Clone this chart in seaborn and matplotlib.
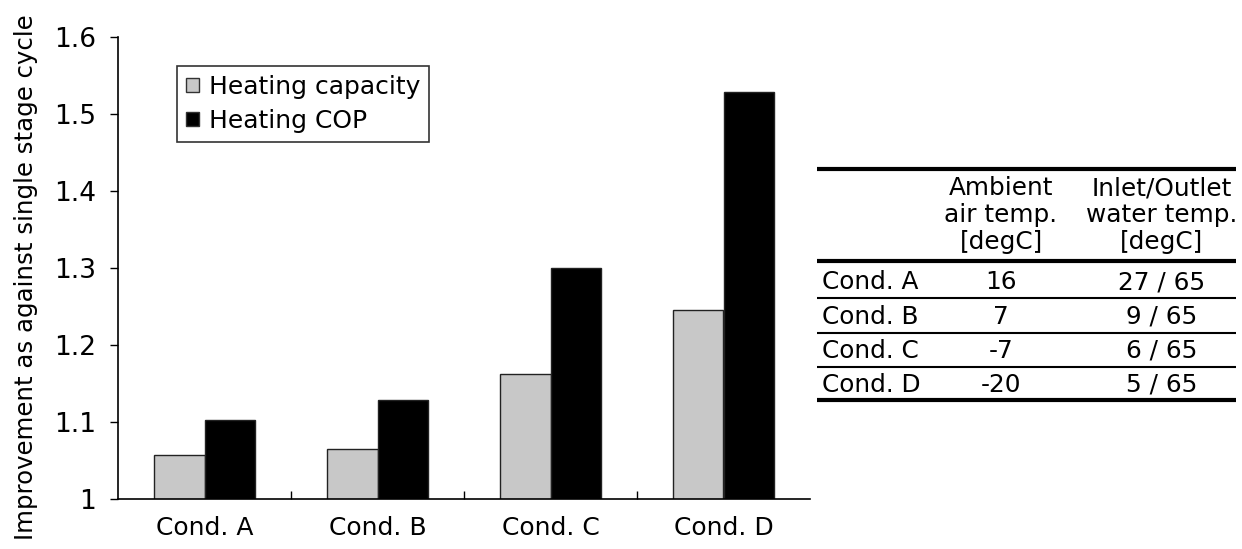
import matplotlib
matplotlib.use("Agg")
import matplotlib.pyplot as plt
from matplotlib.ticker import FuncFormatter, FixedLocator
from matplotlib.patches import Patch
import pandas as pd
import seaborn as sns

# 数据
conditions = ["Cond. A", "Cond. B", "Cond. C", "Cond. D"]
heating_capacity = [1.057, 1.065, 1.162, 1.246]
heating_cop = [1.103, 1.129, 1.300, 1.529]
series_names = ["Heating capacity", "Heating COP"]
series_colors = ["#c8c8c8", "#000000"]

# 表格内容
table_header_col2 = ["Ambient", "air temp.", "[degC]"]
table_header_col3 = ["Inlet/Outlet", "water temp.", "[degC]"]
ambient_temp = ["16", "7", "-7", "-20"]
water_temp = ["27 / 65", "9 / 65", "6 / 65", "5 / 65"]

df = pd.DataFrame({
    "cond": conditions * 2,
    "value": heating_capacity + heating_cop,
    "series": [series_names[0]] * 4 + [series_names[1]] * 4,
})

sns.set_style("white")
plt.rcParams["font.family"] = ["DejaVu Sans"]
plt.rcParams["text.color"] = "black"
plt.rcParams["axes.labelcolor"] = "black"
plt.rcParams["xtick.color"] = "black"
plt.rcParams["ytick.color"] = "black"

W, H = 1242, 549
fig = plt.figure(figsize=(W / 100, H / 100), dpi=100)
ax = fig.add_axes([118 / W, 1 - 499 / H, (810 - 118) / W, (499 - 37) / H])

sns.barplot(data=df, x="cond", y="value", hue="series", palette=series_colors,
            width=0.58, edgecolor="#222222", linewidth=1.0, saturation=1,
            legend=False, ax=ax)

ax.set_xlim(-0.5, 3.5)
ax.set_ylim(1.0, 1.6)
ax.set_yticks([1.0, 1.1, 1.2, 1.3, 1.4, 1.5, 1.6])
ax.yaxis.set_major_formatter(FuncFormatter(lambda v, p: f"{v:g}"))
ax.set_xlabel("")
ax.set_ylabel("Improvement as against single stage cycle", fontsize=17.6)
ax.yaxis.set_label_coords(-0.116, 0.48)
ax.tick_params(axis="y", direction="out", length=6, width=1, labelsize=19, pad=10,
               left=True)
ax.tick_params(axis="x", which="major", length=0, labelsize=18, pad=12)
ax.xaxis.set_minor_locator(FixedLocator([0.5, 1.5, 2.5]))
ax.tick_params(axis="x", which="minor", direction="in", length=6, width=1, bottom=True)
for s in ["top", "right"]:
    ax.spines[s].set_visible(False)
for s in ["left", "bottom"]:
    ax.spines[s].set_color("black")
    ax.spines[s].set_linewidth(1.2)

handles = [Patch(facecolor=c, edgecolor="#333333", linewidth=1.0) for c in series_colors]
leg = ax.legend(handles, series_names, loc="upper left", bbox_to_anchor=(0.085, 0.937),
                fontsize=18, frameon=True, fancybox=False, handlelength=0.52, handleheight=0.52,
                handletextpad=0.4, borderpad=0.35, labelspacing=0.4, borderaxespad=0)
leg.get_frame().set_edgecolor("black")
leg.get_frame().set_linewidth(1.2)

# 右侧表格, 用像素坐标
tax = fig.add_axes([0, 0, 1, 1])
tax.set_xlim(0, W)
tax.set_ylim(H, 0)
tax.axis("off")

x0, x1 = 817, 1236
for y, lw in [(169, 3), (261, 3), (298, 1.5), (333, 1.5), (367, 1.5), (400, 3)]:
    tax.plot([x0, x1], [y, y], color="black", lw=lw, solid_capstyle="butt")

col1_x, col2_x, col3_x = 822, 1001, 1162
tfs = 17.8
for i, yy in enumerate([188, 215, 242]):
    tax.text(col2_x, yy, table_header_col2[i], ha="center", va="center", fontsize=tfs)
    tax.text(col3_x, yy, table_header_col3[i], ha="center", va="center", fontsize=tfs)
for i, yy in enumerate([282, 317, 351, 385]):
    tax.text(col1_x, yy, conditions[i], ha="left", va="center", fontsize=tfs)
    tax.text(col2_x, yy, ambient_temp[i], ha="center", va="center", fontsize=tfs)
    tax.text(col3_x, yy, water_temp[i], ha="center", va="center", fontsize=tfs)

fig.savefig("out.png", dpi=100)
